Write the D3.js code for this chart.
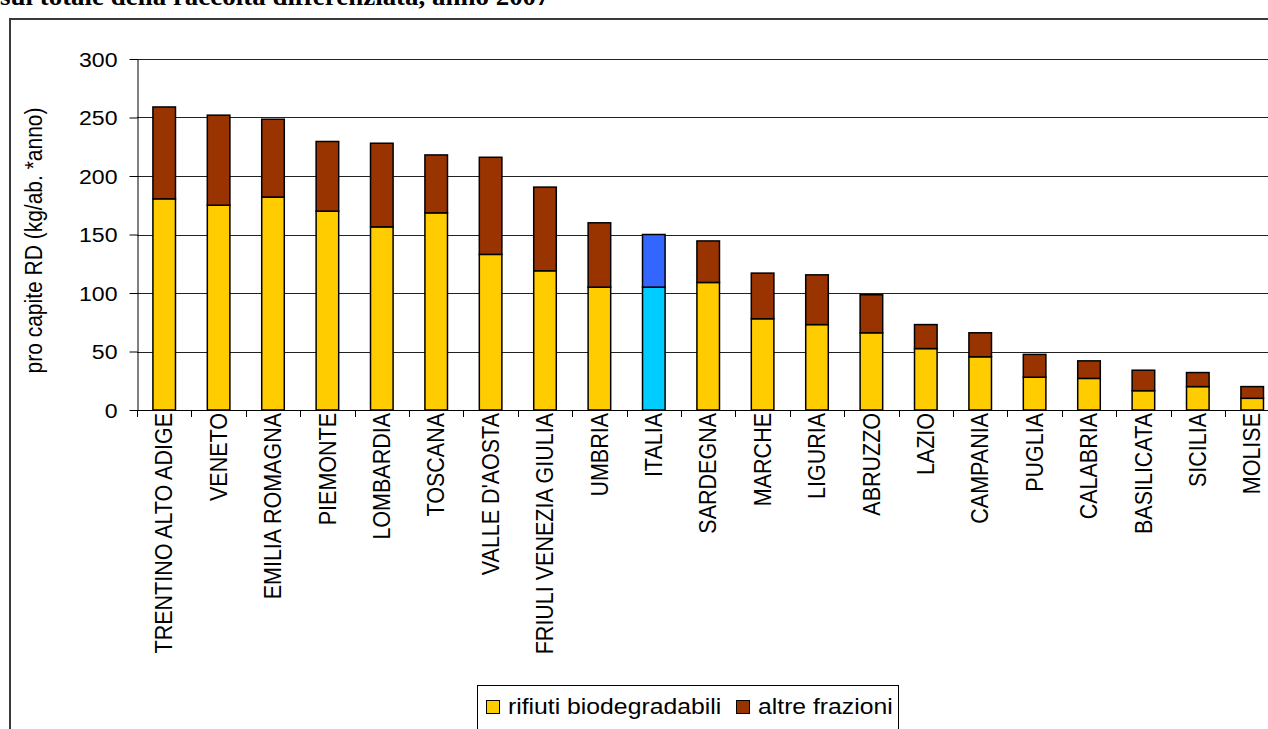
<!DOCTYPE html>
<html>
<head>
<meta charset="utf-8">
<script src="https://cdn.jsdelivr.net/npm/d3@7/dist/d3.min.js"></script>
<style>
  html, body { margin: 0; padding: 0; background: #fff; }
  svg { display: block; }
  text { font-family: "Liberation Sans", Arial, sans-serif; fill: #000; }
</style>
</head>
<body>
<svg id="chart" width="1268" height="729"></svg>
<script>
// Regions ordered by per-capita separate collection (kg per inhabitant per year)
const categories = [
  "TRENTINO ALTO ADIGE", "VENETO", "EMILIA ROMAGNA", "PIEMONTE", "LOMBARDIA",
  "TOSCANA", "VALLE D'AOSTA", "FRIULI VENEZIA GIULIA", "UMBRIA", "ITALIA",
  "SARDEGNA", "MARCHE", "LIGURIA", "ABRUZZO", "LAZIO", "CAMPANIA", "PUGLIA",
  "CALABRIA", "BASILICATA", "SICILIA", "MOLISE"
];
const biodegradabili = [180.5, 175, 182, 170, 156.5, 168.5, 133, 119, 105, 105,
  109, 78, 73, 66, 52.5, 45.5, 28, 27, 16.5, 20, 10];
const altreFrazioni = [78.5, 77, 66.5, 59.5, 71.5, 49.5, 83, 71.5, 55, 45,
  35.5, 39, 42.5, 32.5, 20.5, 20.5, 19.5, 15, 17.5, 12, 10];
const yTicks = [0, 50, 100, 150, 200, 250, 300];
const seriesNames = ["rifiuti biodegradabili", "altre frazioni"];

const colors = {
  bio: "#FFCC00", altre: "#993300",
  bioNational: "#00CCFF", altreNational: "#3366FF"
};
const national = "ITALIA";
const sx = 1.1; // horizontal text stretch

const svg = d3.select("#chart");

// outer frame
svg.append("path")
  .attr("d", "M10,729 L10,19 L1268,19")
  .attr("fill", "none").attr("stroke", "#3a3a3a").attr("stroke-width", 2);

// heading line, running off the top edge
svg.append("text")
  .attr("transform", `translate(0,5) scale(${sx},1)`)
  .style("font-family", "'Liberation Serif', 'Times New Roman', serif")
  .style("font-weight", "bold").style("font-size", "24.5px")
  .text("sul totale della raccolta differenziata, anno 2007");

const plotLeft = 137, plotTop = 59, plotBottom = 410;
const step = 54.4;
const plotRight = plotLeft + step * categories.length;

const x = d3.scaleBand().domain(categories).range([plotLeft, plotRight])
  .paddingInner(0.585).paddingOuter(0.2925);
const y = d3.scaleLinear().domain([0, 300]).range([plotBottom, plotTop]);

// horizontal grid
svg.append("g").selectAll("line").data(yTicks.filter(d => d > 0)).join("line")
  .attr("x1", plotLeft).attr("x2", plotRight)
  .attr("y1", d => Math.round(y(d)) + 0.5).attr("y2", d => Math.round(y(d)) + 0.5)
  .attr("stroke", "#222").attr("stroke-width", 1);

// y axis
const yAxis = svg.append("g").attr("transform", `translate(${plotLeft + 0.5},0)`)
  .call(d3.axisLeft(y).tickValues(yTicks).tickSize(8).tickPadding(0).tickSizeOuter(0));
yAxis.select(".domain").attr("stroke", "#000");
yAxis.selectAll(".tick line").attr("stroke", "#000");
yAxis.selectAll(".tick text")
  .attr("x", 0).attr("dy", "0.35em")
  .attr("text-anchor", "end")
  .attr("fill", "#000")
  .attr("transform", `translate(-20,0) scale(${sx},1)`)
  .style("font-size", "21px");

// bars
const rows = categories.map((c, i) => ({ c, bio: biodegradabili[i], altre: altreFrazioni[i] }));
const bars = svg.append("g");
rows.forEach(r => {
  const isNat = r.c === national;
  bars.append("rect")
    .attr("x", x(r.c)).attr("width", x.bandwidth())
    .attr("y", y(r.bio)).attr("height", y(0) - y(r.bio))
    .attr("fill", isNat ? colors.bioNational : colors.bio)
    .attr("stroke", "#000").attr("stroke-width", 1.5);
  bars.append("rect")
    .attr("x", x(r.c)).attr("width", x.bandwidth())
    .attr("y", y(r.bio + r.altre)).attr("height", y(r.bio) - y(r.bio + r.altre))
    .attr("fill", isNat ? colors.altreNational : colors.altre)
    .attr("stroke", "#000").attr("stroke-width", 1.5);
});

// x axis: baseline, boundary ticks, rotated labels
const xa = svg.append("g");
xa.append("line").attr("x1", plotLeft).attr("x2", plotRight)
  .attr("y1", plotBottom + 0.5).attr("y2", plotBottom + 0.5).attr("stroke", "#000");
const bounds = categories.map(c => x(c) - x.step() * x.paddingInner() / 2);
xa.selectAll("line.tk").data(bounds).join("line").attr("class", "tk")
  .attr("x1", d => Math.round(d) + 0.5).attr("x2", d => Math.round(d) + 0.5)
  .attr("y1", plotBottom).attr("y2", plotBottom + 7).attr("stroke", "#000");
xa.selectAll("text").data(categories).join("text")
  .attr("transform", d => `translate(${x(d) + x.bandwidth() / 2},${plotBottom + 3}) scale(${sx},1) rotate(-90)`)
  .attr("text-anchor", "end").attr("dy", "0.35em")
  .style("font-size", "21.5px")
  .text(d => d);

// y axis title
svg.append("text")
  .attr("transform", `translate(34,${(plotTop + plotBottom) / 2 + 6}) scale(${sx},1) rotate(-90)`)
  .attr("text-anchor", "middle").attr("dy", "0.35em")
  .style("font-size", "21px")
  .text("pro capite RD (kg/ab. *anno)");

// legend
const lg = svg.append("g");
lg.append("rect").attr("x", 477.5).attr("y", 685.5).attr("width", 421).attr("height", 60)
  .attr("fill", "#fff").attr("stroke", "#000");
const legendItems = [
  { name: seriesNames[0], color: colors.bio, sw: 486, tx: 508 },
  { name: seriesNames[1], color: colors.altre, sw: 736, tx: 758 }
];
legendItems.forEach(it => {
  lg.append("rect").attr("x", it.sw + 0.5).attr("y", 700.5).attr("width", 13).attr("height", 13)
    .attr("fill", it.color).attr("stroke", "#000");
  lg.append("text")
    .attr("transform", `translate(${it.tx},714) scale(${sx},1)`)
    .style("font-size", "22.5px")
    .text(it.name);
});
</script>
</body>
</html>
